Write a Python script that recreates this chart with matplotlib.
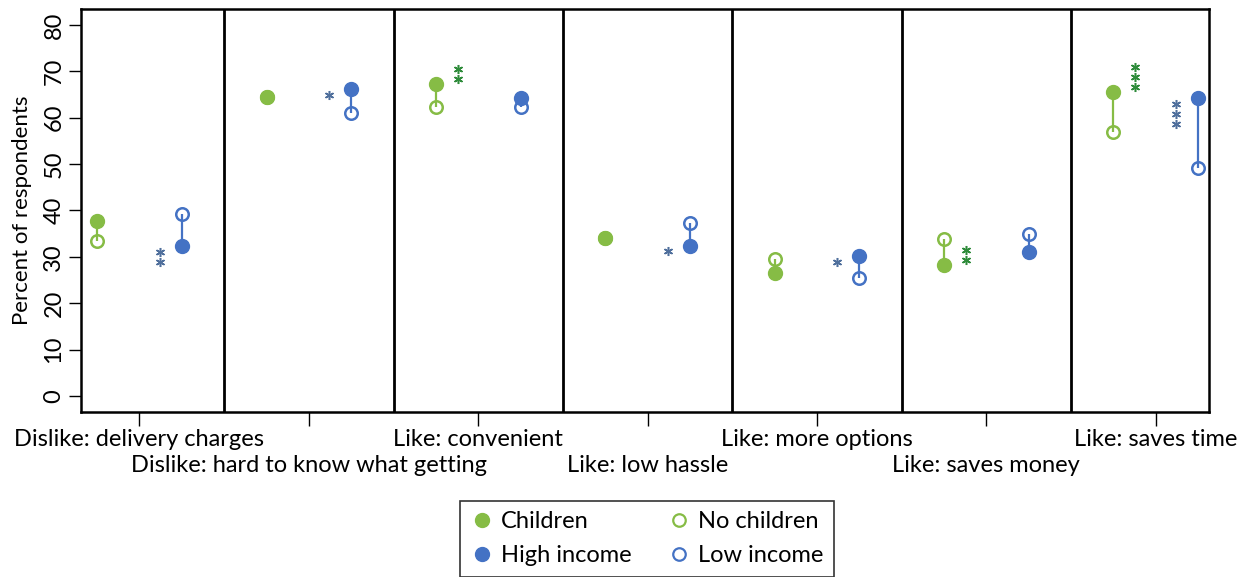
import matplotlib.pyplot as plt
import numpy as np
from matplotlib.lines import Line2D

plt.rcParams['font.family'] = ['Lato', 'DejaVu Sans']

categories = ["Dislike: delivery charges", "Dislike: hard to know what getting",
              "Like: convenient", "Like: low hassle", "Like: more options",
              "Like: saves money", "Like: saves time"]
children = [37.7, 64.4, 67.3, 34.1, 26.5, 28.2, 65.5]
no_children = [33.4, 64.4, 62.4, 34.1, 29.5, 33.8, 56.9]
high_income = [32.3, 66.1, 64.3, 32.4, 30.1, 31.0, 64.2]
low_income = [39.2, 61.0, 62.4, 37.2, 25.5, 34.9, 49.2]
# number of significance stars for each comparison
children_sig = [0, 0, 2, 0, 0, 2, 3]
income_sig = [2, 1, 0, 1, 1, 0, 3]

green = '#86bc45'
blue = '#4472c4'
green_star = '#2e8b3a'
blue_star = '#4f6f9c'

fig = plt.figure(figsize=(12.45, 5.77), dpi=100)
ax = fig.add_axes([0.0651, 0.2860, 0.9060, 0.6984])

x = np.arange(len(categories))
xg = x - 0.25
xb = x + 0.25

# connecting segments
ax.vlines(xg, no_children, children, color=green, lw=1.6, zorder=2)
ax.vlines(xb, low_income, high_income, color=blue, lw=1.6, zorder=2)

ms = 10
ax.plot(xg, no_children, 'o', ms=ms - 1, mfc='none', mec=green, mew=1.8, ls='none', zorder=3)
ax.plot(xg, children, 'o', ms=ms, color=green, ls='none', zorder=4)
ax.plot(xb, low_income, 'o', ms=ms - 1, mfc='none', mec=blue, mew=1.8, ls='none', zorder=3)
ax.plot(xb, high_income, 'o', ms=ms, color=blue, ls='none', zorder=4)

# significance stars: green stacked upward above the children point,
# blue stacked downward below the high income point
star = (6, 2, 0)
for i in range(len(categories)):
    for k in range(children_sig[i]):
        ax.plot(x[i] - 0.12, children[i] + 1.1 + 2.2 * k, marker=star, ms=6.5,
                mec=green_star, mew=1.1, ls='none')
    for k in range(income_sig[i]):
        ax.plot(x[i] + 0.12, high_income[i] - 1.2 - 2.2 * k, marker=star, ms=6.5,
                mec=blue_star, mew=1.1, ls='none')

# panel separators
for b in x[:-1] + 0.5:
    ax.axvline(b, color='black', lw=2)

ax.set_xlim(-0.345, 6.315)
ax.set_ylim(-3.45, 83.45)
ax.set_yticks(np.arange(0, 81, 10))
ax.set_yticklabels([str(v) for v in range(0, 81, 10)], rotation=90, va='center', fontsize=17)
ax.set_ylabel('Percent of respondents', fontsize=16, labelpad=8)

ax.set_xticks(x)
labels = ax.set_xticklabels(categories, fontsize=17)
for i, lab in enumerate(labels):
    if i % 2 == 1:
        lab.set_y(-0.066)
ax.tick_params(axis='x', length=10, width=1, pad=2)
ax.tick_params(axis='y', length=9, width=1, pad=3)
for sp in ax.spines.values():
    sp.set_linewidth(1.8)

# legend
handles = [
    Line2D([], [], marker='o', ls='none', color=green, ms=10),
    Line2D([], [], marker='o', ls='none', color=blue, ms=10),
    Line2D([], [], marker='o', ls='none', mfc='none', mec=green, mew=1.6, ms=9),
    Line2D([], [], marker='o', ls='none', mfc='none', mec=blue, mew=1.6, ms=9),
]
leg = fig.legend(handles, ['Children', 'High income', 'No children', 'Low income'],
                 ncol=2, loc='upper center', bbox_to_anchor=(0.5195, 1 - 489 / 577),
                 fontsize=17, frameon=True, fancybox=False, edgecolor='black',
                 handletextpad=0.3, columnspacing=1.5, handlelength=1.0,
                 borderpad=0.45, labelspacing=0.55)
leg.get_frame().set_linewidth(1.2)

fig.savefig('out.png', dpi=100)
